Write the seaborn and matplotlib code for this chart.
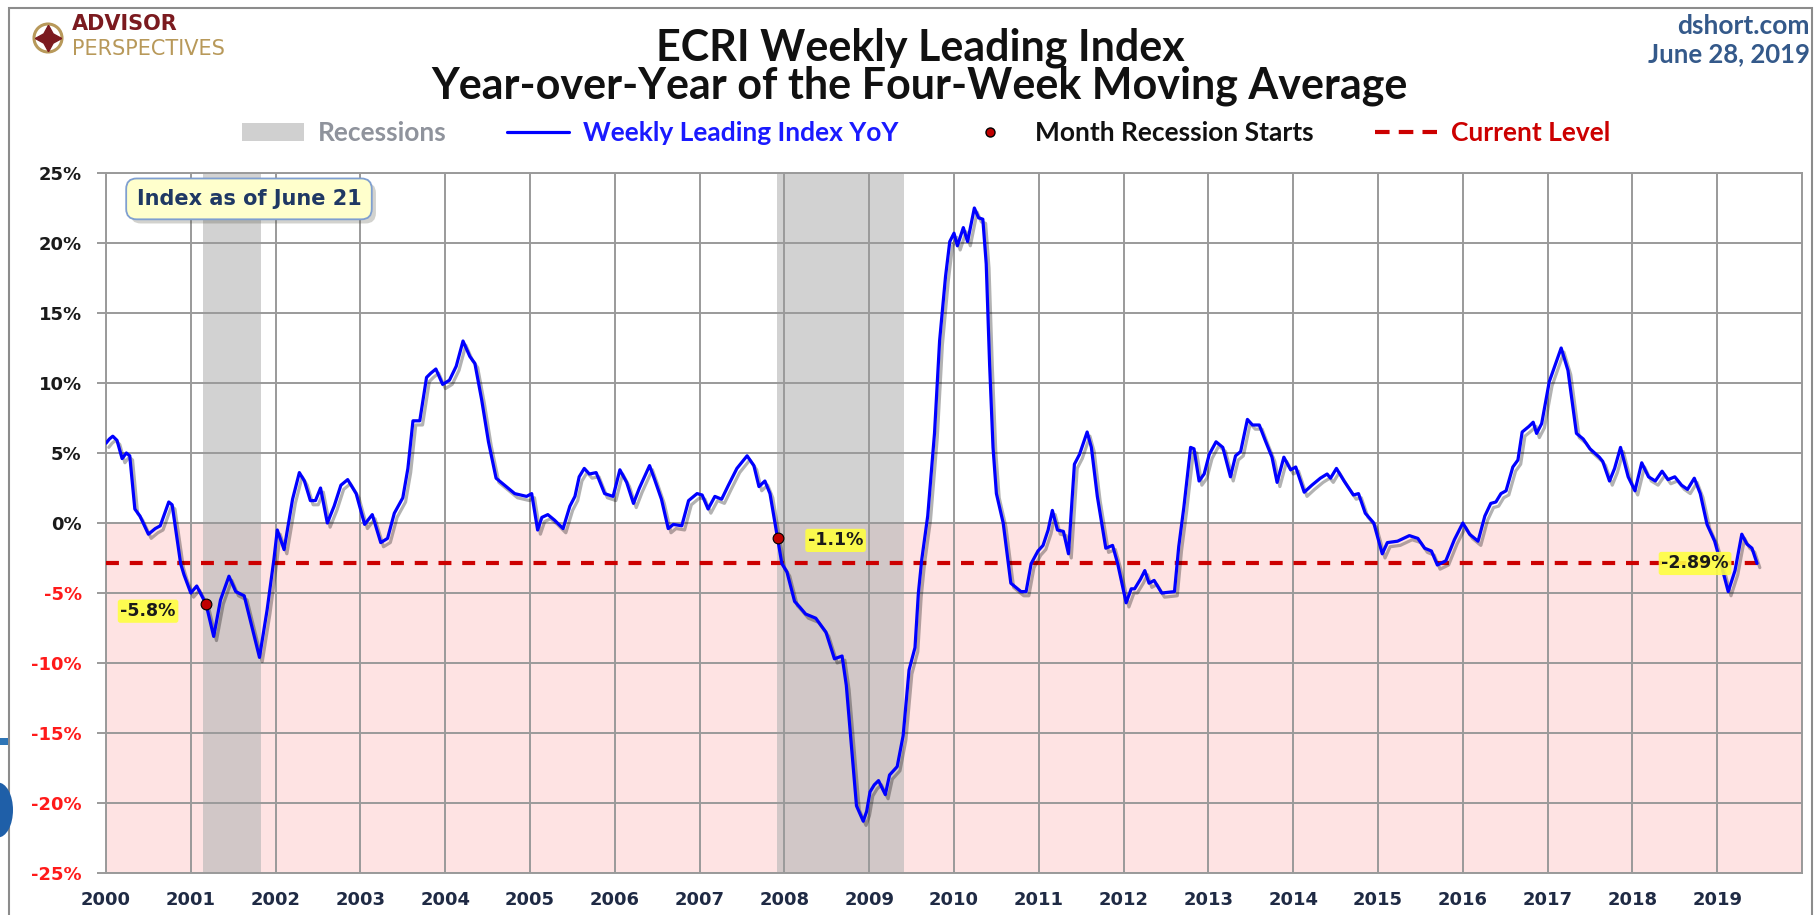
import matplotlib.pyplot as plt
import matplotlib.patheffects as pe
import pandas as pd
import seaborn as sns
from matplotlib.lines import Line2D
from matplotlib.patches import Circle, Ellipse, Patch, Rectangle

# weekly leading index, yoy of the 4-week moving average
years = [
    2000.00, 2000.04, 2000.08, 2000.13, 2000.19, 2000.24, 2000.28, 2000.34, 2000.40, 2000.50,
    2000.58, 2000.64, 2000.74, 2000.78, 2000.88, 2000.92, 2001.00, 2001.07, 2001.18, 2001.27,
    2001.35, 2001.45, 2001.53, 2001.63, 2001.72, 2001.81, 2001.90, 2001.98, 2002.02, 2002.10,
    2002.20, 2002.28, 2002.34, 2002.41, 2002.47, 2002.53, 2002.61, 2002.69, 2002.77, 2002.85,
    2002.95, 2003.05, 2003.14, 2003.24, 2003.32, 2003.40, 2003.50, 2003.56, 2003.62, 2003.70,
    2003.78, 2003.83, 2003.89, 2003.97, 2004.05, 2004.13, 2004.21, 2004.29, 2004.35, 2004.43,
    2004.51, 2004.60, 2004.70, 2004.82, 2004.96, 2005.02, 2005.09, 2005.14, 2005.21, 2005.29,
    2005.39, 2005.47, 2005.53, 2005.58, 2005.64, 2005.70, 2005.78, 2005.88, 2005.98, 2006.06,
    2006.14, 2006.22, 2006.29, 2006.41, 2006.47, 2006.55, 2006.63, 2006.69, 2006.79, 2006.87,
    2006.97, 2007.03, 2007.10, 2007.18, 2007.26, 2007.34, 2007.44, 2007.56, 2007.64, 2007.70,
    2007.77, 2007.83, 2007.92, 2007.97, 2008.03, 2008.12, 2008.18, 2008.25, 2008.37, 2008.49,
    2008.59, 2008.68, 2008.73, 2008.79, 2008.85, 2008.93, 2008.97, 2009.01, 2009.06, 2009.11,
    2009.19, 2009.24, 2009.33, 2009.40, 2009.47, 2009.54, 2009.58, 2009.62, 2009.69, 2009.77,
    2009.83, 2009.90, 2009.95, 2010.00, 2010.04, 2010.11, 2010.16, 2010.24, 2010.29, 2010.34,
    2010.38, 2010.42, 2010.46, 2010.50, 2010.58, 2010.64, 2010.67, 2010.79, 2010.85, 2010.91,
    2010.99, 2011.05, 2011.11, 2011.16, 2011.22, 2011.29, 2011.35, 2011.42, 2011.48, 2011.57,
    2011.62, 2011.69, 2011.79, 2011.87, 2011.93, 2012.03, 2012.09, 2012.13, 2012.20, 2012.25,
    2012.30, 2012.36, 2012.45, 2012.60, 2012.65, 2012.71, 2012.79, 2012.83, 2012.89, 2012.95,
    2013.01, 2013.09, 2013.17, 2013.26, 2013.32, 2013.38, 2013.46, 2013.52, 2013.60, 2013.67,
    2013.75, 2013.81, 2013.89, 2013.97, 2014.03, 2014.13, 2014.22, 2014.32, 2014.40, 2014.44,
    2014.51, 2014.60, 2014.71, 2014.77, 2014.85, 2014.95, 2015.05, 2015.11, 2015.23, 2015.37,
    2015.47, 2015.55, 2015.63, 2015.70, 2015.80, 2015.90, 2016.00, 2016.08, 2016.18, 2016.26,
    2016.33, 2016.39, 2016.45, 2016.51, 2016.59, 2016.65, 2016.70, 2016.78, 2016.83, 2016.87,
    2016.93, 2017.02, 2017.16, 2017.24, 2017.34, 2017.42, 2017.50, 2017.61, 2017.65, 2017.73,
    2017.79, 2017.86, 2017.95, 2018.03, 2018.11, 2018.19, 2018.27, 2018.35, 2018.42, 2018.50,
    2018.58, 2018.65, 2018.73, 2018.80, 2018.88, 2018.97, 2019.03, 2019.13, 2019.21, 2019.29,
    2019.35, 2019.41, 2019.47,
]
yoy = [
    5.7, 6.0, 6.2, 5.9, 4.6, 5.0, 4.8, 1.0, 0.5, -0.8,
    -0.4, -0.2, 1.5, 1.3, -2.9, -3.7, -5.0, -4.5, -5.8, -8.1,
    -5.5, -3.8, -4.9, -5.2, -7.4, -9.6, -6.2, -2.6, -0.5, -1.9,
    1.7, 3.6, 3.0, 1.6, 1.6, 2.5, 0.0, 1.2, 2.7, 3.1,
    2.1, -0.1, 0.6, -1.4, -1.1, 0.7, 1.8, 3.9, 7.3, 7.3,
    10.4, 10.7, 11.0, 9.9, 10.2, 11.2, 13.0, 11.9, 11.4, 8.8,
    5.8, 3.2, 2.7, 2.1, 1.9, 2.1, -0.5, 0.4, 0.6, 0.2,
    -0.4, 1.2, 1.9, 3.3, 3.9, 3.5, 3.6, 2.1, 1.9, 3.8,
    2.9, 1.4, 2.5, 4.1, 3.1, 1.7, -0.4, -0.1, -0.2, 1.6,
    2.1, 2.0, 1.0, 1.9, 1.7, 2.7, 3.9, 4.8, 4.1, 2.6,
    3.0, 2.1, -1.1, -2.9, -3.5, -5.6, -6.0, -6.5, -6.8, -7.8,
    -9.7, -9.5, -11.6, -15.9, -20.2, -21.3, -20.6, -19.2, -18.7, -18.4,
    -19.4, -18.0, -17.4, -15.2, -10.5, -8.9, -5.0, -2.6, 0.5, 6.4,
    13.0, 17.6, 20.1, 20.7, 19.8, 21.1, 20.1, 22.5, 21.8, 21.7,
    18.5, 11.3, 5.4, 2.1, 0.0, -2.9, -4.3, -4.9, -4.9, -2.9,
    -2.0, -1.6, -0.5, 0.9, -0.5, -0.6, -2.2, 4.2, 4.9, 6.5,
    5.4, 1.9, -1.8, -1.6, -2.9, -5.7, -4.7, -4.7, -4.0, -3.4,
    -4.3, -4.1, -5.0, -4.9, -1.7, 1.1, 5.4, 5.3, 3.0, 3.5,
    4.9, 5.8, 5.4, 3.3, 4.8, 5.1, 7.4, 7.0, 7.0, 5.9,
    4.7, 2.9, 4.7, 3.8, 4.0, 2.2, 2.7, 3.2, 3.5, 3.2,
    3.9, 3.0, 2.0, 2.1, 0.7, 0.0, -2.2, -1.4, -1.3, -0.9,
    -1.1, -1.8, -2.0, -3.0, -2.7, -1.2, 0.0, -0.8, -1.3, 0.5,
    1.4, 1.5, 2.1, 2.3, 4.0, 4.5, 6.5, 6.9, 7.2, 6.4,
    7.1, 10.1, 12.5, 10.9, 6.4, 6.0, 5.3, 4.7, 4.4, 3.0,
    3.9, 5.4, 3.3, 2.3, 4.3, 3.3, 3.0, 3.7, 3.1, 3.3,
    2.7, 2.4, 3.2, 2.1, -0.1, -1.3, -2.6, -4.9, -3.4, -0.8,
    -1.5, -1.8, -2.89,
]

recession_start = [2001.14, 2007.91]
recession_end = [2001.83, 2009.41]

start_month = [2001.18, 2007.92]
start_level = [-5.8, -1.1]
start_labels = ["-5.8%", "-1.1%"]

current_level = -2.89

y_ticks = list(range(-25, 30, 5))
x_ticks = list(range(2000, 2021))
x_labels = [str(y) for y in range(2000, 2020)] + [""]

legend_labels = ["Recessions", "Weekly Leading Index YoY", "Month Recession Starts", "Current Level"]

df = pd.DataFrame({"year": years, "yoy": yoy})

sns.set_style("white")
plt.rcParams["font.family"] = ["DejaVu Sans"]

GRID = "#9a9a9a"
W, H = 1816, 915

fig = plt.figure(figsize=(W / 100, H / 100), dpi=100)
ax = fig.add_axes([106 / W, 42 / H, 1696 / W, 700 / H])

# pink zone below zero, recession bands
ax.axhspan(-25, 0, color="#fee3e3", lw=0, zorder=0.1)
for s, e in zip(recession_start, recession_end):
    ax.axvspan(s, e, color="#b8b8b8", alpha=0.63, lw=0, zorder=0.2)

sns.lineplot(data=df, x="year", y="yoy", ax=ax, color="#0000ff", lw=2.3, zorder=4)
ax.lines[0].set_path_effects(
    [pe.SimpleLineShadow(offset=(2, -3), alpha=0.3), pe.Normal()]
)

ax.hlines(current_level, years[0], years[-1], color="#cc0000", lw=3,
          linestyles=(0, (3.1, 2.6)), zorder=3)

sns.scatterplot(x=start_month, y=start_level, ax=ax, color="#c00000",
                edgecolor="black", linewidth=0.8, s=60, zorder=6)

label_box = dict(boxstyle="round,pad=0.15", fc="#ffff40", ec="none", alpha=0.9)
for x, y, lab, dx in zip(start_month, start_level, start_labels, [-58, 58]):
    ax.annotate(lab, (x, y), xytext=(dx, -7 if dx < 0 else -2), textcoords="offset pixels",
                ha="center", va="center", fontsize=12.5, fontweight="bold",
                color="#1a1a1a", bbox=label_box, zorder=7)
ax.annotate(f"{current_level:.2f}%", (years[-1], current_level), xytext=(-62, 0),
            textcoords="offset pixels", ha="center", va="center", fontsize=12.5,
            fontweight="bold", color="#1a1a1a", bbox=label_box, zorder=7)

info = ax.text(0.0843, 0.963, "Index as of June 21", transform=ax.transAxes,
               ha="center", va="center", fontsize=15, fontweight="bold",
               color="#1f3864", zorder=8,
               bbox=dict(boxstyle="round,pad=0.5,rounding_size=0.5", fc="#ffffcc",
                         ec="#7f9fd0", lw=1.3))
info.get_bbox_patch().set_path_effects(
    [pe.SimplePatchShadow(offset=(3, -3), alpha=0.25), pe.Normal()]
)

ax.set_xlim(2000, 2020)
ax.set_ylim(-25, 25)
ax.set_xticks(x_ticks)
ax.set_xticklabels(x_labels, fontsize=13, fontweight="bold", color="#1f2a44")
ax.set_yticks(y_ticks)
ax.set_yticklabels([f"{v}%" for v in y_ticks], fontsize=13, fontweight="bold")
for t, v in zip(ax.get_yticklabels(), y_ticks):
    t.set_color("#ff1a1a" if v < 0 else "#1a1a1a")
ax.tick_params(axis="y", length=6.5, width=1.4, color=GRID, pad=11, left=True)
ax.tick_params(axis="x", length=0, pad=13)
ax.set_xlabel("")
ax.set_ylabel("")
ax.grid(True, color=GRID, lw=1.4)
ax.set_axisbelow(True)
for sp in ax.spines.values():
    sp.set_color(GRID)
    sp.set_linewidth(1.4)

# legend row
handles = [
    Patch(facecolor="#d0d0d0", edgecolor="none"),
    Line2D([], [], color="#0000ff", lw=2.3),
    Line2D([], [], ls="", marker="o", color="#c00000", mec="black", ms=6.5),
    Line2D([], [], color="#cc0000", lw=3, ls=(0, (3.5, 2.2))),
]
fig.legend(handles, legend_labels, loc="center", bbox_to_anchor=(926 / W, 1 - 133 / H),
           ncol=4, frameon=False, handlelength=2.35, handletextpad=0.53,
           columnspacing=2.3, prop={"family": "Lato", "weight": "bold", "size": 19},
           labelcolor=["#8f939c", "#1a1aff", "#111111", "#cc0000"])

# titles and header
fig.text(920 / W, 1 - 48 / H, "ECRI Weekly Leading Index", ha="center", va="center",
         fontsize=31, fontweight="bold", family="Lato", color="#111111")
fig.text(920 / W, 1 - 86 / H, "Year-over-Year of the Four-Week Moving Average",
         ha="center", va="center", fontsize=31, fontweight="bold", family="Lato",
         color="#111111")
fig.text(1810 / W, 1 - 26 / H, "dshort.com", ha="right", va="center", fontsize=19,
         fontweight="bold", family="Lato", color="#34598a")
fig.text(1810 / W, 1 - 54 / H, "June 28, 2019", ha="right", va="center", fontsize=18.5,
         fontweight="bold", family="Lato", color="#34598a")

# advisor perspectives logo
fig.add_artist(Circle((0.48, 8.77), 0.14, transform=fig.dpi_scale_trans,
                      fc="none", ec="#b8995a", lw=2.2))
fig.add_artist(Line2D([0.48], [8.77], transform=fig.dpi_scale_trans, marker=(4, 1, 0),
                      ms=19, color="#7b1a1f"))
fig.text(72 / W, 1 - 24 / H, "ADVISOR", va="center", fontsize=15, fontweight="bold",
         family="DejaVu Sans", color="#7b1a1f")
fig.text(72 / W, 1 - 49 / H, "PERSPECTIVES", va="center", fontsize=15,
         family="DejaVu Sans", color="#b8995a")

# outer frame and bits of the screen behind it
fig.add_artist(Rectangle((9 / W, -0.05), 1803 / W, 1.05 - 8 / H, transform=fig.transFigure,
                         fc="none", ec="#8c8c8c", lw=1.5))
fig.add_artist(Rectangle((0, 1 - 745 / H), 8 / W, 7 / H, transform=fig.transFigure,
                         fc="#2e75b6", ec="none"))
fig.add_artist(Ellipse((-0.02, 1.05), 0.3, 0.55, transform=fig.dpi_scale_trans,
                       fc="#1f5fa8", ec="none"))

fig.savefig("out.png", dpi=100)
